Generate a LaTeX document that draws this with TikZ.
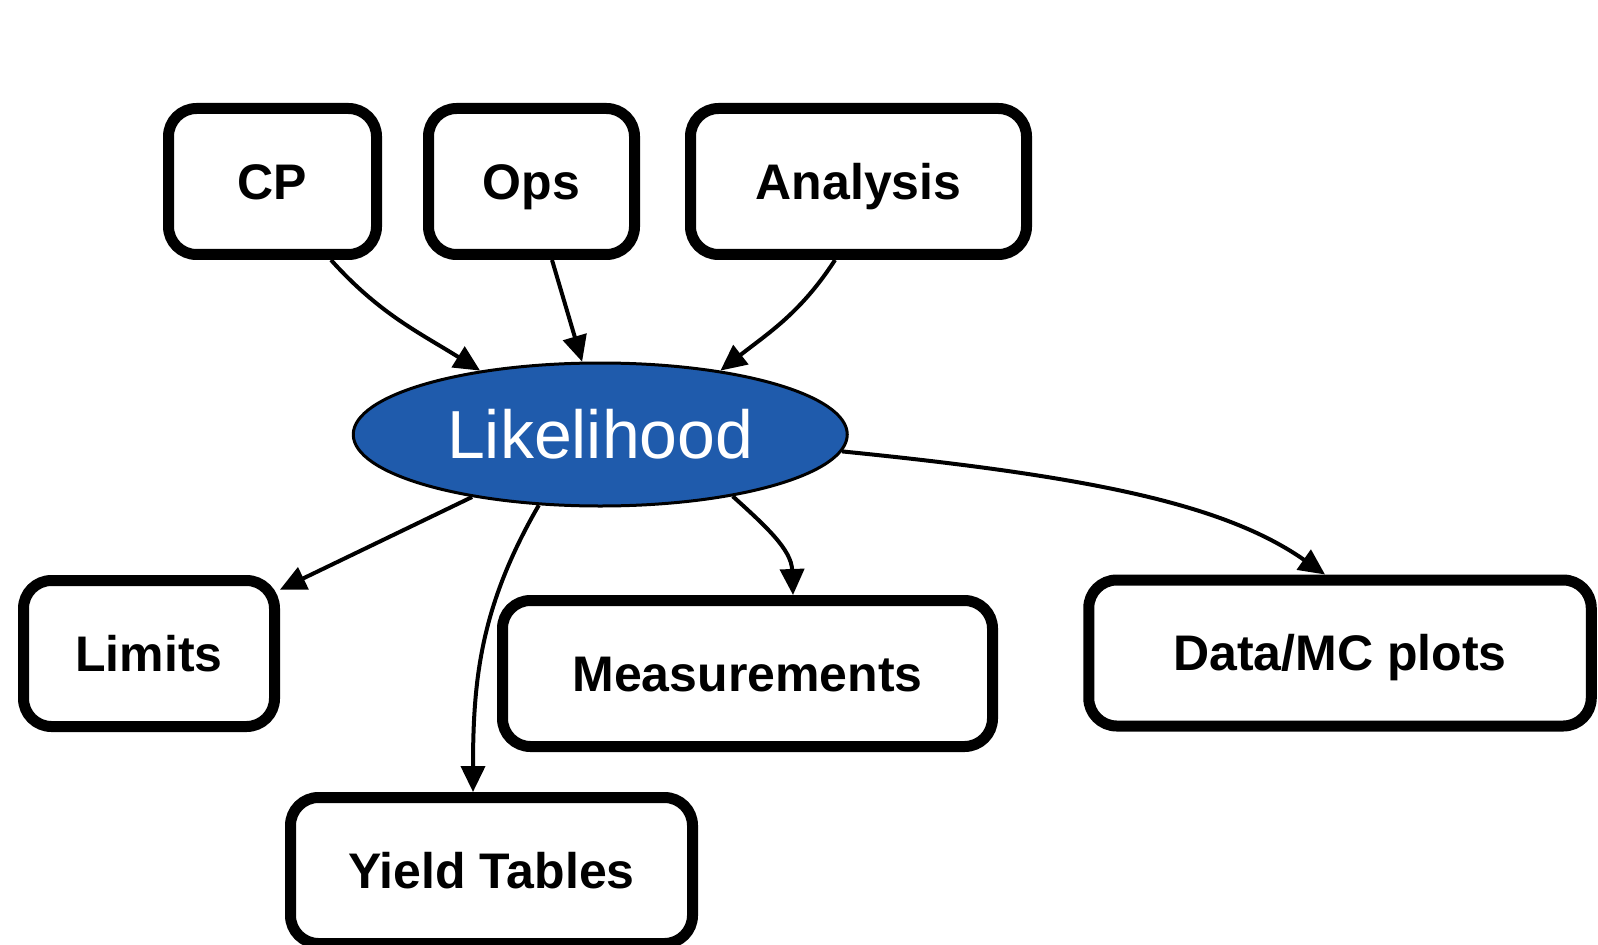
\documentclass[tikz,border=0pt]{standalone}
\usepackage{fontspec}
\setmainfont{Liberation Sans}
\usetikzlibrary{shapes.geometric,arrows.meta}
\definecolor{likblue}{RGB}{31,91,172}
\tikzset{
  x=0.5pt, y=0.5pt,
  stage/.style={draw=black, line width=5.5pt, rounded corners=14pt, fill=white,
    minimum height=73pt, inner sep=0pt, text height=17.9pt, text depth=0pt,
    font=\bfseries\fontsize{25pt}{25pt}\selectfont},
  core/.style={ellipse, draw=black, line width=1.5pt, fill=likblue, text=white,
    minimum width=247pt, minimum height=71.5pt, inner sep=0pt,
    text height=24.3pt, text depth=0pt,
    font=\fontsize{34pt}{34pt}\selectfont},
  flow/.style={draw=black, line width=2pt, -{Triangle[length=13pt,width=12pt]}},
}
\begin{document}
\begin{tikzpicture}
\useasboundingbox (0,0) rectangle (1598,944);
\clip (0,0) rectangle (1598,944);

% sources
\node[stage, minimum width=104pt] (cp)  at (272.5,762.5) {CP};
\node[stage, minimum width=103pt] (ops) at (531.5,762.5) {Ops};
\node[stage, minimum width=168pt] (ana) at (858.5,762.5) {Analysis};

% central likelihood
\node[core] (lik) at (600.25,509.5) {Likelihood};

% outputs
\node[stage, minimum width=125.5pt]  (limits) at (149,290.5)   {Limits};
\node[stage, minimum width=245pt]    (meas)   at (747.5,270.5) {Measurements};
\node[stage, minimum width=251.25pt] (data)   at (1340,291)    {Data/MC plots};
\node[stage, minimum width=201pt]    (yield)  at (491.5,73.5)  {Yield Tables};

% inputs to the likelihood
\draw[flow] ([xshift=29.25pt]cp.south) to[out=-48,in=148] (lik.152);
\draw[flow] ([xshift=10.25pt]ops.south) -- (lik.104);
\draw[flow] ([xshift=-11.75pt]ana.south) to[out=-123,in=38] (lik.28);

% products of the likelihood
\draw[flow] (lik.-154) -- (limits.26);
\draw[flow] (lik.-131) to[out=-120,in=90] ([xshift=-9.25pt]yield.north);
\draw[flow] (lik.-25) to[out=-42,in=92] ([xshift=22.75pt]meas.north);
\draw[flow] (lik.-4) .. controls +(250,-25) and +(-100,70) .. ([xshift=-7.5pt]data.north);
\end{tikzpicture}
\end{document}
